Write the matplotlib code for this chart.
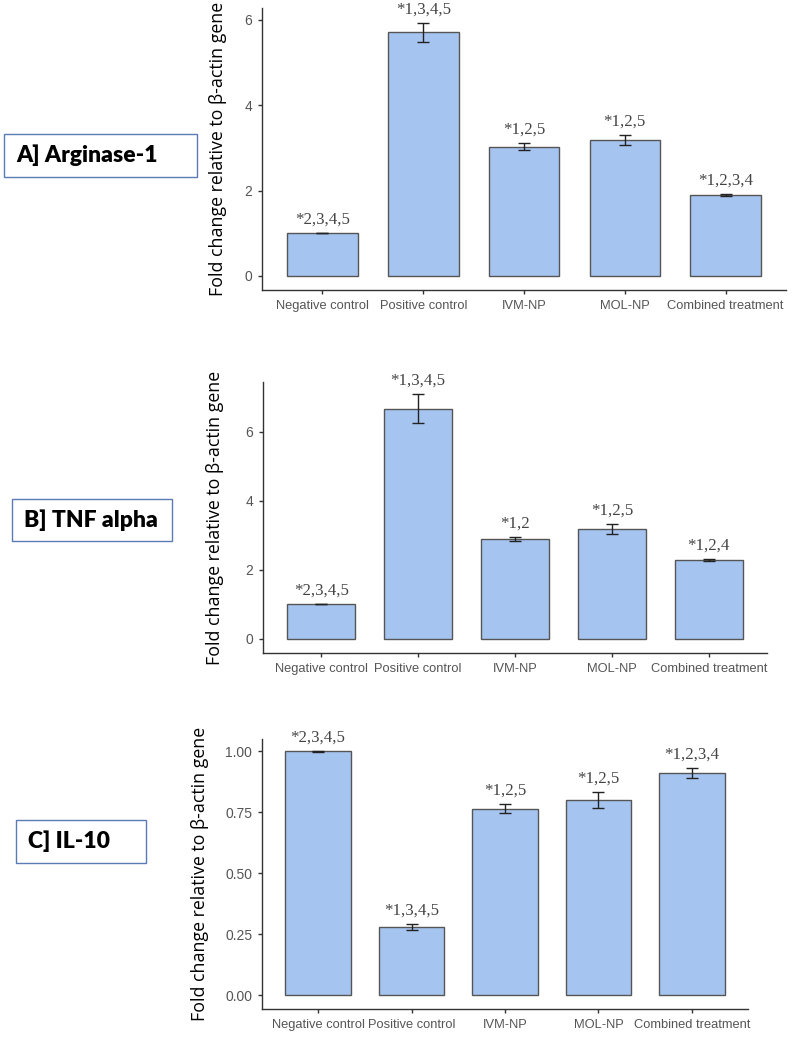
import matplotlib
matplotlib.use('Agg')
import matplotlib.pyplot as plt
from matplotlib.patches import Rectangle

# data
groups = ['Negative control', 'Positive control', 'IVM-NP', 'MOL-NP', 'Combined treatment']

arg_mean = [1.0, 5.71, 3.03, 3.18, 1.89]
arg_err = [0.0, 0.22, 0.08, 0.12, 0.02]
arg_sig = ['*2,3,4,5', '*1,3,4,5', '*1,2,5', '*1,2,5', '*1,2,3,4']

tnf_mean = [1.0, 6.68, 2.90, 3.18, 2.28]
tnf_err = [0.0, 0.43, 0.06, 0.14, 0.03]
tnf_sig = ['*2,3,4,5', '*1,3,4,5', '*1,2', '*1,2,5', '*1,2,4']

il10_mean = [1.0, 0.28, 0.765, 0.80, 0.91]
il10_err = [0.002, 0.013, 0.017, 0.032, 0.021]
il10_sig = ['*2,3,4,5', '*1,3,4,5', '*1,2,5', '*1,2,5', '*1,2,3,4']

W, H = 797, 1040
fig = plt.figure(figsize=(W / 100, H / 100), dpi=100)


def add_ax(left, top, right, bottom):
    # axes placed in pixel coordinates of the figure
    return fig.add_axes([left / W, 1 - bottom / H, (right - left) / W, (bottom - top) / H])


def bar_panel(ax, means, errs, sigs, ylim, yticks, fmt, label_x):
    x = list(range(1, len(groups) + 1))
    ax.bar(x, means, width=0.7, color='#a6c4f0', edgecolor='#555555', linewidth=1, zorder=2)
    ax.errorbar(x, means, yerr=errs, fmt='none', ecolor='#222222', elinewidth=1,
                capsize=4, capthick=1, zorder=3)
    for xi, m, e, s in zip(x, means, errs, sigs):
        ax.annotate(s, xy=(xi, m + e), xytext=(0, 4), textcoords='offset points',
                    ha='center', va='bottom', fontsize=12.2, color='#444444',
                    family='Liberation Serif', annotation_clip=False)
    ax.set_xlim(0.4, 5.6)
    ax.set_ylim(*ylim)
    ax.set_xticks(x)
    ax.set_xticklabels(groups, fontsize=9.3, color='#555555', family='Liberation Sans')
    ax.set_yticks(yticks)
    ax.set_yticklabels([fmt.format(t) for t in yticks], fontsize=10, color='#555555',
                       family='Liberation Sans')
    for side in ['top', 'right']:
        ax.spines[side].set_visible(False)
    for side in ['left', 'bottom']:
        ax.spines[side].set_color('#333333')
        ax.spines[side].set_linewidth(1)
    ax.tick_params(axis='both', length=3, color='#333333', width=1, pad=4)
    ax.set_ylabel('Fold change relative to β-actin gene', fontsize=12.8, color='black',
                  family=['Open Sans', 'DejaVu Sans'])
    ax.yaxis.set_label_coords(label_x, 0.5)


def label_box(left, top, right, bottom, text):
    fig.patches.append(Rectangle((left / W, 1 - bottom / H), (right - left) / W,
                                 (bottom - top) / H, transform=fig.transFigure,
                                 fill=False, edgecolor='#5a7bb5', linewidth=1))
    fig.text((left + 12) / W, 1 - (top + bottom) / 2 / H, text, ha='left', va='center',
             fontsize=16.5, fontweight='heavy', color='black', family=['Lato', 'DejaVu Sans'])


axA = add_ax(262, 8, 786, 290)
bar_panel(axA, arg_mean, arg_err, arg_sig, (-0.33, 6.28), [0, 2, 4, 6], '{:g}',
          (227 - 262) / 524)

axB = add_ax(263, 382, 767, 653)
bar_panel(axB, tnf_mean, tnf_err, tnf_sig, (-0.41, 7.45), [0, 2, 4, 6], '{:g}',
          (224 - 263) / 504)

axC = add_ax(262, 739, 748, 1009)
bar_panel(axC, il10_mean, il10_err, il10_sig, (-0.056, 1.05), [0, 0.25, 0.5, 0.75, 1.0],
          '{:.2f}', (209 - 262) / 486)

label_box(4, 134, 197, 177, 'A] Arginase-1')
label_box(12, 499, 172, 541, 'B] TNF alpha')
label_box(16, 820, 146, 863, 'C] IL-10')

fig.savefig('out.png', dpi=100)
